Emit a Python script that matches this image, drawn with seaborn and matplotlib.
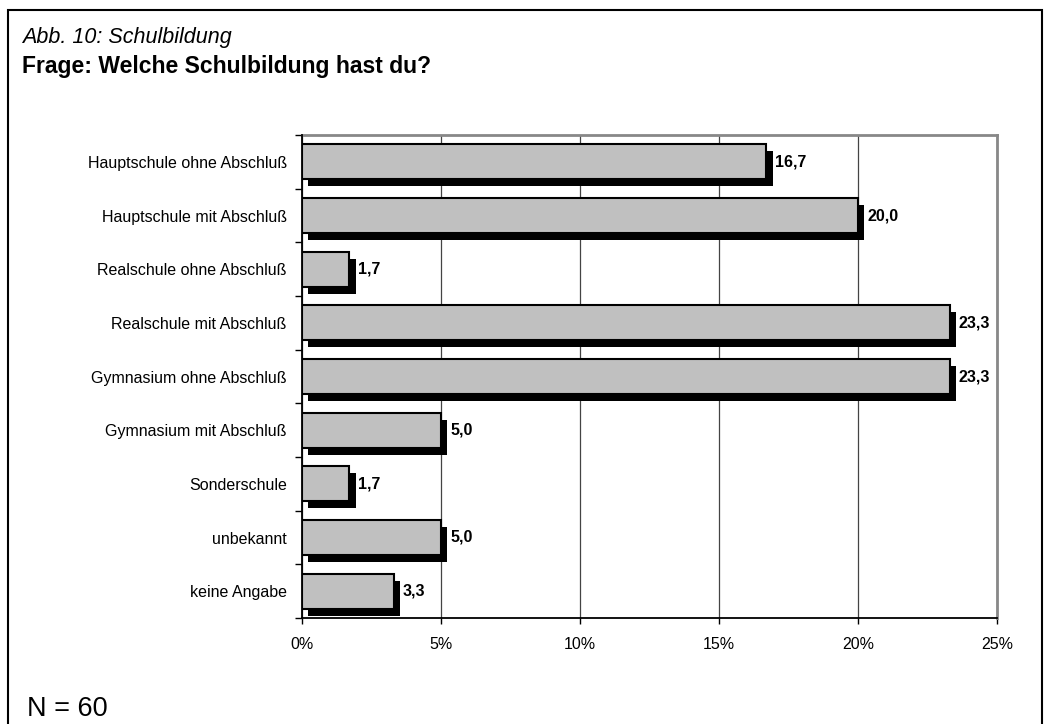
import matplotlib
matplotlib.use("Agg")
import matplotlib.pyplot as plt
import matplotlib.patheffects as pe
from matplotlib.patches import Rectangle
from matplotlib.ticker import FuncFormatter, FixedLocator
import seaborn as sns
import pandas as pd

categories = [
    "Hauptschule ohne Abschluß",
    "Hauptschule mit Abschluß",
    "Realschule ohne Abschluß",
    "Realschule mit Abschluß",
    "Gymnasium ohne Abschluß",
    "Gymnasium mit Abschluß",
    "Sonderschule",
    "unbekannt",
    "keine Angabe",
]
values = [16.7, 20.0, 1.7, 23.3, 23.3, 5.0, 1.7, 5.0, 3.3]
x_ticks = [0, 5, 10, 15, 20, 25]
title_small = "Abb. 10: Schulbildung"
title_main = "Frage: Welche Schulbildung hast du?"
footnote = "N = 60"

sns.set_style("white")
plt.rcParams["font.family"] = ["Liberation Sans", "DejaVu Sans"]
plt.rcParams["text.color"] = "black"
plt.rcParams["axes.labelcolor"] = "black"
plt.rcParams["xtick.color"] = "black"
plt.rcParams["ytick.color"] = "black"

df = pd.DataFrame({"cat": categories, "val": values})

fig = plt.figure(figsize=(10.5, 7.24), dpi=100)
W, H = 1050, 724
ax = fig.add_axes([302 / W, 1 - 618 / H, (997 - 302) / W, (618 - 135) / H])

sns.barplot(data=df, x="val", y="cat", orient="h", ax=ax, color="#C0C0C0",
            saturation=1, width=0.65, edgecolor="black", linewidth=1.5, zorder=3)

for p in ax.patches:
    p.set_path_effects([
        pe.SimplePatchShadow(offset=(4.5, -5), shadow_rgbFace="black", alpha=1.0),
        pe.Normal(),
    ])

for i, v in enumerate(values):
    ax.annotate(f"{v:.1f}".replace(".", ","), xy=(v, i), xytext=(6.5, 0),
                textcoords="offset points", ha="left", va="center",
                fontsize=11.5, fontweight="bold", color="black", zorder=5)

ax.set_xlim(0, 25)
ax.set_ylim(len(categories) - 0.5, -0.5)
ax.xaxis.set_major_locator(FixedLocator(x_ticks))
ax.xaxis.set_major_formatter(FuncFormatter(lambda x, _: f"{x:.0f}%"))
ax.set_xlabel("")
ax.set_ylabel("")

ax.grid(axis="x", color="#444444", linewidth=0.9, zorder=0)
ax.set_axisbelow(True)

for s in ["top", "right"]:
    ax.spines[s].set_color("#888888")
    ax.spines[s].set_linewidth(2)
for s in ["left", "bottom"]:
    ax.spines[s].set_color("black")
    ax.spines[s].set_linewidth(1.3)
    ax.spines[s].set_zorder(6)

ax.tick_params(axis="x", which="major", direction="out", length=4, width=1,
               color="black", bottom=True, labelsize=11.5, pad=10)
ax.tick_params(axis="y", which="major", length=0, labelsize=11.5, pad=11)
ax.yaxis.set_minor_locator(FixedLocator([i - 0.5 for i in range(len(categories) + 1)]))
ax.tick_params(axis="y", which="minor", direction="out", length=5, width=1,
               color="black", left=True)

# outer frame
frame = Rectangle((8 / W, -0.05), (1042 - 8) / W, 1.05 - 10 / H,
                  transform=fig.transFigure, fill=False, edgecolor="black",
                  linewidth=1.5, clip_on=False)
fig.patches.append(frame)

fig.text(22 / W, 1 - 38 / H, title_small, fontsize=15.5, style="italic", va="center", ha="left")
fig.text(22 / W, 1 - 67 / H, title_main, fontsize=16.5, fontweight="bold", va="center", ha="left")
fig.text(27 / W, 1 - 709 / H, footnote, fontsize=19.5, va="center", ha="left")

fig.savefig("out.png", dpi=100)
